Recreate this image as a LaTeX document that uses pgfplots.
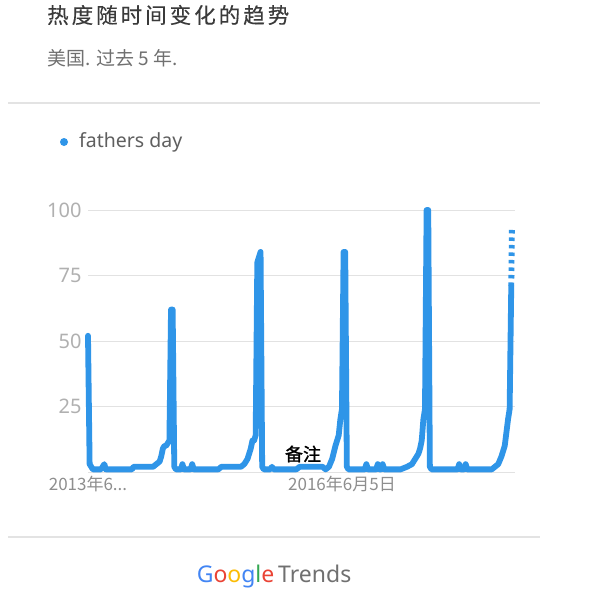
\documentclass[border=0pt]{standalone}
\usepackage{fontspec}
\usepackage{pgfplots}
\pgfplotsset{compat=1.18}
\setmainfont{Noto Sans}
\newfontfamily\cjk{Noto Sans CJK SC}
\newfontfamily\cjktitle[LetterSpace=14, FakeBold=0.25]{Noto Sans CJK SC}
\newfontfamily\cjkbold[FakeBold=1.5]{Noto Sans CJK SC}

\definecolor{trendblue}{HTML}{2F95E8}
\definecolor{gridgrey}{HTML}{E2E2E2}
\definecolor{basegrey}{HTML}{A8A8A8}
\definecolor{ticklab}{HTML}{B0B0B0}
\definecolor{xlab}{HTML}{8E8E8E}
\definecolor{titlegrey}{HTML}{3A3A3A}
\definecolor{subgrey}{HTML}{707070}
\definecolor{rulegrey}{HTML}{E3E3E3}
\definecolor{gblue}{HTML}{4285F4}
\definecolor{gred}{HTML}{EA4335}
\definecolor{gyellow}{HTML}{FBBC05}
\definecolor{ggreen}{HTML}{34A853}

\begin{document}
\begin{tikzpicture}
\path[use as bounding box, fill=white] (0,0) rectangle (596bp,-591bp);

% header
\node[anchor=west, inner sep=0, text=titlegrey, font=\cjktitle\fontsize{21.5bp}{23bp}\selectfont]
  at (47bp,-15bp) {热度随时间变化的趋势};
\node[anchor=west, inner sep=0, text=subgrey, font=\cjk\fontsize{19bp}{21bp}\selectfont]
  at (47bp,-58bp) {美国. 过去 5 年.};
\draw[rulegrey, line width=1.2bp] (8bp,-103bp) -- (540bp,-103bp);

% legend
\fill[trendblue] (64bp,-142bp) circle (4bp);
\node[anchor=west, inner sep=0, text=subgrey!85!black, font=\fontsize{19.5bp}{21bp}\selectfont]
  at (79bp,-142bp) {fathers day};

\begin{axis}[
    at={(88bp,-472bp)}, anchor=south west,
    scale only axis, width=427bp, height=262bp,
    xmin=0, xmax=262.3, ymin=0, ymax=100,
    clip=false,
    axis line style={draw=none},
    major tick length=0pt,
    ytick={25,50,75,100},
    extra y ticks={0},
    extra y tick labels={},
    extra y tick style={grid style={draw=basegrey, line width=1.2bp}},
    ymajorgrids,
    major grid style={draw=gridgrey, line width=1bp},
    /pgf/number format/assume math mode=true,
    yticklabel style={text=ticklab, font=\fontsize{20bp}{22bp}\selectfont, xshift=-3bp},
    xtick={0,156},
    xticklabels={{2013年6{.}{.}{.}},{2016年6月5日}},
    xticklabel style={text=xlab, font=\cjk\fontsize{17bp}{19bp}\selectfont, yshift=-1bp},
]
\addplot[trendblue, line width=5.8bp, line join=round, line cap=round] coordinates {
(0,52)(1,3)(2,2)(3,1)(8,1)(9,2)(10,3)(11,1)(20,1)(27,1)(28,2)(40,2)(42,3)
(44,4)(45,6)(46,9)(47,10)(48,10)(49,11)(50,12)(51,62)(52,62)(53,2)
(54,1)(57,1)(58,3)(59,1)(63,1)(64,3)(65,1)(80,1)(82,2)(94,2)(96,3)
(98,5)(99,7)(100,9)(101,12)(102,12)(103,14)(104,80)(105,82)(106,84)(107,2)
(108,1)(112,1)(113,2)(114,1)(128,1)(130,2)(144,2)(146,1)(148,2)
(150,5)(152,10)(154,14)(155,20)(156,24)(157,84)(158,84)(159,2)
(160,1)(170,1)(171,3)(172,1)(177,1)(178,3)(179,1)(180,1)(181,3)(182,1)
(192,1)(196,2)(199,3)(201,5)(203,7)(204,9)(205,12)(206,20)(207,24)(208,100)(209,100)(210,2)
(211,1)(227,1)(228,3)(229,1)(231,1)(232,3)(233,1)(248,1)(250,2)
(252,3)(254,6)(256,10)(257,15)(258,20)(259,24)(260,71)
};
\addplot[trendblue, line width=5.8bp, dash pattern=on 3.5bp off 4bp, line cap=butt] coordinates {
(260,71)(260.4,93)
};
\end{axis}

\node[anchor=center, inner sep=0, text=black, font=\cjkbold\fontsize{18bp}{20bp}\selectfont]
  at (303bp,-454bp) {备注};

% footer
\draw[rulegrey, line width=1.2bp] (8bp,-537bp) -- (540bp,-537bp);
\node[anchor=center, inner sep=0, font=\fontsize{23bp}{25bp}\selectfont]
  at (274bp,-577bp) {\textcolor{gblue}{G}\textcolor{gred}{o}\textcolor{gyellow}{o}\textcolor{gblue}{g}\textcolor{ggreen}{l}\textcolor{gred}{e}\,\textcolor{subgrey}{Trends}};
\end{tikzpicture}
\end{document}
